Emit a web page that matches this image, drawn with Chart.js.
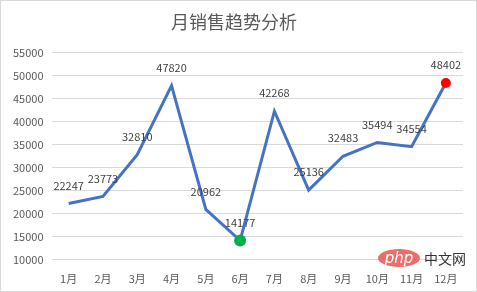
<!DOCTYPE html>
<html lang="zh">
<head>
<meta charset="UTF-8">
<title>月销售趋势分析</title>
<script src="https://cdn.jsdelivr.net/npm/chart.js"></script>
<style>
    body { margin: 0; background: #fff; }
    #wrap {
        position: relative;
        width: 475px;
        height: 290px;
        border: 1px solid #d9d9d9;
    }
    .mark {
        position: absolute;
        left: 377px;
        top: 242px;
        font-family: "Noto Sans CJK SC", sans-serif;
        white-space: nowrap;
    }
    .mark .php {
        display: inline-block;
        background: #e8605a;
        color: #fff;
        font-style: italic;
        font-size: 15px;
        line-height: 18px;
        width: 42px;
        text-align: center;
        border-radius: 50%;
        opacity: 0.9;
        vertical-align: middle;
        font-family: "DejaVu Sans", sans-serif;
    }
    .mark .cn {
        font-size: 14px;
        color: #333;
        vertical-align: middle;
        margin-left: 4px;
    }
</style>
</head>
<body>
<div id="wrap">
    <canvas id="c" width="475" height="290"></canvas>
    <div class="mark"><span class="php">php</span><span class="cn">中文网</span></div>
</div>
<script>
    const months = ['1月', '2月', '3月', '4月', '5月', '6月', '7月', '8月', '9月', '10月', '11月', '12月'];
    const sales = [22247, 23773, 32810, 47820, 20962, 14177, 42268, 25136, 32483, 35494, 34554, 48402];
    const yMin = 10000;
    const yMax = 55000;
    const yStep = 5000;

    // 最小值绿色, 最大值红色
    const minIdx = sales.indexOf(Math.min(...sales));
    const maxIdx = sales.indexOf(Math.max(...sales));
    const pointColors = sales.map((v, i) => i === minIdx ? '#00b050' : (i === maxIdx ? '#ff0000' : '#4472c4'));
    const pointSizes = sales.map((v, i) => i === minIdx ? 6 : (i === maxIdx ? 5 : 0));

    const valueLabels = {
        id: 'valueLabels',
        afterDatasetsDraw(chart) {
            const ctx = chart.ctx;
            const meta = chart.getDatasetMeta(0);
            ctx.save();
            ctx.font = '11px "Noto Sans CJK SC", sans-serif';
            ctx.fillStyle = '#404040';
            ctx.textAlign = 'center';
            ctx.textBaseline = 'middle';
            meta.data.forEach((pt, i) => {
                ctx.fillText(sales[i], pt.x, pt.y - 18);
            });
            ctx.restore();
        }
    };

    new Chart(document.getElementById('c'), {
        type: 'line',
        data: {
            labels: months,
            datasets: [{
                data: sales,
                borderColor: '#4472c4',
                borderWidth: 3,
                tension: 0,
                pointRadius: pointSizes,
                pointHoverRadius: pointSizes,
                pointBackgroundColor: pointColors,
                pointBorderColor: pointColors,
                pointBorderWidth: 0
            }]
        },
        options: {
            responsive: false,
            animation: false,
            layout: { padding: { top: 4, left: 4, right: 13, bottom: 2 } },
            plugins: {
                legend: { display: false },
                tooltip: { enabled: false },
                title: {
                    display: true,
                    text: '月销售趋势分析',
                    color: '#595959',
                    font: { family: '"Noto Sans CJK SC", sans-serif', size: 18, weight: 'normal' },
                    padding: { top: 6, bottom: 20 }
                }
            },
            scales: {
                x: {
                    offset: true,
                    grid: { display: false },
                    border: { display: false },
                    ticks: {
                        color: '#595959',
                        font: { family: '"Noto Sans CJK SC", sans-serif', size: 11 },
                        maxRotation: 0,
                        autoSkip: false,
                        padding: 4
                    }
                },
                y: {
                    min: yMin,
                    max: yMax,
                    grid: { color: '#d9d9d9', drawTicks: false },
                    border: { display: false },
                    ticks: {
                        stepSize: yStep,
                        color: '#595959',
                        font: { family: '"Noto Sans CJK SC", sans-serif', size: 11 },
                        padding: 8,
                        callback: v => String(v)
                    }
                }
            }
        },
        plugins: [valueLabels]
    });
</script>
</body>
</html>
